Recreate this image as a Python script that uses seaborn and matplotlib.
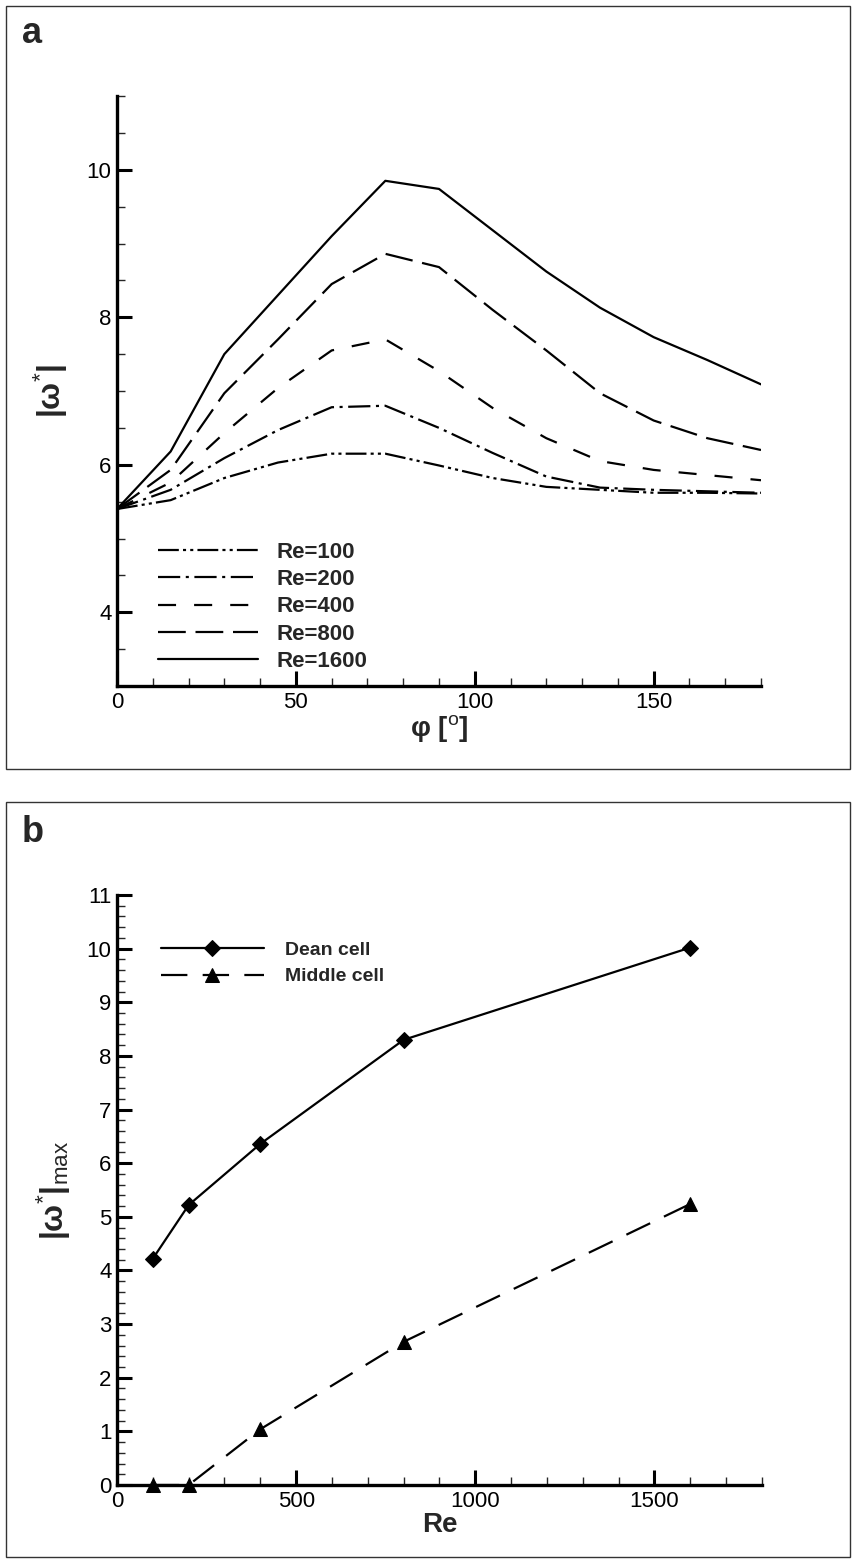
import matplotlib
matplotlib.use("Agg")
import matplotlib.pyplot as plt
import seaborn as sns
import pandas as pd
from matplotlib.patches import Rectangle
from matplotlib.ticker import MultipleLocator

# ---------------- data ----------------
phi = [0, 15, 30, 45, 60, 75, 90, 105, 120, 135, 150, 165, 180]
re_labels = ["Re=100", "Re=200", "Re=400", "Re=800", "Re=1600"]
w_re100 = [5.40, 5.52, 5.82, 6.03, 6.15, 6.15, 5.99, 5.82, 5.70, 5.66, 5.62, 5.62, 5.61]
w_re200 = [5.40, 5.66, 6.09, 6.47, 6.78, 6.80, 6.50, 6.16, 5.84, 5.69, 5.66, 5.64, 5.62]
w_re400 = [5.40, 5.76, 6.43, 7.04, 7.55, 7.70, 7.27, 6.77, 6.36, 6.05, 5.93, 5.86, 5.79]
w_re800 = [5.40, 5.93, 6.97, 7.70, 8.45, 8.86, 8.68, 8.10, 7.55, 6.97, 6.60, 6.36, 6.20]
w_re1600 = [5.40, 6.18, 7.50, 8.30, 9.10, 9.85, 9.74, 9.18, 8.62, 8.13, 7.73, 7.42, 7.09]

re_vals = [100, 200, 400, 800, 1600]
dean_cell = [4.22, 5.22, 6.36, 8.30, 10.02]
middle_cell = [0.0, 0.0, 1.04, 2.67, 5.24]
cell_labels = ["Dean cell", "Middle cell"]

# ---------------- style ----------------
sns.set_style("ticks")
plt.rcParams["font.family"] = ["Liberation Sans", "DejaVu Sans"]
plt.rcParams["mathtext.fontset"] = "custom"
plt.rcParams["mathtext.rm"] = "Liberation Sans"
plt.rcParams["mathtext.it"] = "Liberation Sans:italic"
plt.rcParams["mathtext.bf"] = "Liberation Sans:bold"
plt.rcParams["lines.scale_dashes"] = False

W, H = 853, 1564
fig = plt.figure(figsize=(W / 100, H / 100), dpi=100)

def fx(px):
    return px / W

def fy(py):
    return 1 - py / H

# panel frames
for (y0, y1) in [(6, 769), (802, 1557)]:
    fig.add_artist(Rectangle((fx(6), fy(y1)), fx(850) - fx(6), fy(y0) - fy(y1),
                             transform=fig.transFigure, fill=False,
                             edgecolor="#333333", linewidth=1.0))

fig.text(fx(22), fy(43), "a", fontsize=26, fontweight="bold", ha="left", va="baseline")
fig.text(fx(22), fy(842), "b", fontsize=26, fontweight="bold", ha="left", va="baseline")

def style_axes(ax):
    for s in ["top", "right"]:
        ax.spines[s].set_visible(False)
    for s in ["left", "bottom"]:
        ax.spines[s].set_linewidth(2.4)
        ax.spines[s].set_color("black")
    ax.tick_params(which="major", direction="in", length=11, width=2.2,
                   labelsize=16, pad=4, colors="black")
    ax.tick_params(which="minor", direction="in", length=6, width=1.0)
    ax.set_facecolor("white")

# ---------------- panel a ----------------
ax1 = fig.add_axes([fx(117), fy(686), fx(761) - fx(117), fy(96) - fy(686)])
series_a = [w_re100, w_re200, w_re400, w_re800, w_re1600]
styles_a = [
    (0, (15, 3, 2.2, 3, 2.2, 3)),
    (0, (16, 4, 2.2, 4)),
    (0, (13, 13)),
    (0, (20, 7)),
    "solid",
]
for vals, lab, ls in zip(series_a, re_labels, styles_a):
    df = pd.DataFrame({"phi": phi, "w": vals})
    sns.lineplot(data=df, x="phi", y="w", ax=ax1, color="black", linewidth=1.6,
                 linestyle=ls, label=lab, errorbar=None)

ax1.set_xlim(0, 180)
ax1.set_ylim(3, 11)
ax1.xaxis.set_major_locator(MultipleLocator(50))
ax1.xaxis.set_minor_locator(MultipleLocator(10))
ax1.yaxis.set_major_locator(MultipleLocator(2))
ax1.yaxis.set_minor_locator(MultipleLocator(0.5))
style_axes(ax1)
ax1.set_xlabel("φ [$^{\\mathrm{o}}$]", fontsize=20, fontweight="bold", labelpad=0)
ax1.set_ylabel("|ω$^{*}$|", fontsize=23, fontweight="bold", labelpad=12)
leg1 = ax1.legend(loc="upper left", bbox_to_anchor=(fx(138), fy(522)),
                  bbox_transform=fig.transFigure, frameon=False,
                  prop={"weight": "bold", "size": 16}, handlelength=4.5,
                  handletextpad=0.85, labelspacing=0.28)

# ---------------- panel b ----------------
ax2 = fig.add_axes([fx(117), fy(1485), fx(762) - fx(117), fy(895) - fy(1485)])
df_d = pd.DataFrame({"Re": re_vals, "w": dean_cell})
df_m = pd.DataFrame({"Re": re_vals, "w": middle_cell})
sns.lineplot(data=df_d, x="Re", y="w", ax=ax2, color="black", linewidth=1.6,
             marker="D", markersize=8, markeredgecolor="black",
             label=cell_labels[0], errorbar=None, clip_on=False)
sns.lineplot(data=df_m, x="Re", y="w", ax=ax2, color="black", linewidth=1.6,
             linestyle=(0, (19, 11)), marker="^", markersize=10,
             markeredgecolor="black", label=cell_labels[1], errorbar=None,
             clip_on=False)
ax2.set_xlim(0, 1800)
ax2.set_ylim(0, 11)
ax2.xaxis.set_major_locator(MultipleLocator(500))
ax2.xaxis.set_minor_locator(MultipleLocator(100))
ax2.yaxis.set_major_locator(MultipleLocator(1))
ax2.yaxis.set_minor_locator(MultipleLocator(0.2))
style_axes(ax2)
ax2.set_xlabel("Re", fontsize=20, fontweight="bold", labelpad=0)
ax2.set_ylabel("|ω$^{*}$|$_{\\mathrm{max}}$", fontsize=23, fontweight="bold", labelpad=10)
leg2 = ax2.legend(loc="upper left", bbox_to_anchor=(fx(143), fy(924)),
                  bbox_transform=fig.transFigure, frameon=False,
                  prop={"weight": "bold", "size": 14}, handlelength=5.3,
                  handletextpad=1.1, labelspacing=0.45)

fig.savefig("out.png", dpi=100, facecolor="white")
